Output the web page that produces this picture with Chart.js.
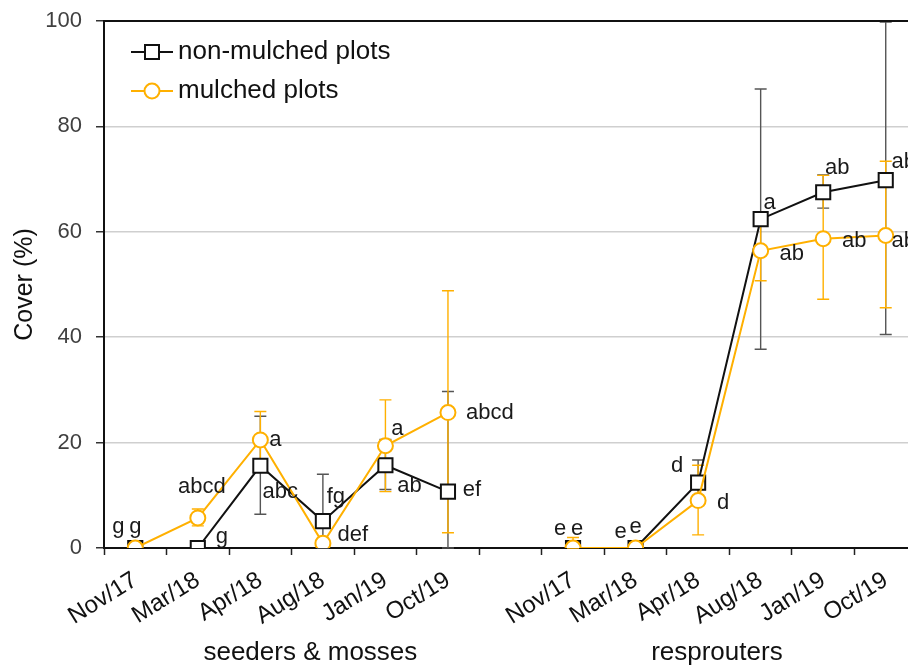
<!DOCTYPE html>
<html>
<head>
<meta charset="utf-8">
<style>
  html, body { margin: 0; padding: 0; background: #fff; overflow: hidden; }
  canvas { display: block; }
</style>
<script src="https://cdn.jsdelivr.net/npm/chart.js@4.4.1/dist/chart.umd.min.js"></script>
</head>
<body>
<!-- wider than the window on purpose: the source figure is cropped at its right edge -->
<canvas id="c" width="929" height="666"></canvas>
<script>
/* ---- data (cover %, mean and error-bar ends) ---- */
var dates = ['Nov/17', 'Mar/18', 'Apr/18', 'Aug/18', 'Jan/19', 'Oct/19'];
var categories = dates.concat([''], dates);   // blank slot splits the two groups
var groups = ['seeders & mosses', 'resprouters'];
var yTicks = [0, 20, 40, 60, 80, 100];

var bareMean = [0, 0, 15.6, 5.1, 15.7, 10.7, null, 0, 0, 12.4, 62.4, 67.5, 69.8];
var bareLow  = [null, null, 6.4, 0, 11.1, 0, null, null, null, 8.1, 37.7, 64.5, 40.5];
var bareHigh = [null, null, 25.0, 14.0, 20.6, 29.7, null, null, null, 16.7, 87.1, 70.8, 99.8];
var bareLetters = ['g', 'g', 'abc', 'fg', 'ab', 'ef', '', 'e', 'e', 'd', 'a', 'ab', 'ab'];

var mulchMean = [0, 5.7, 20.5, 0.9, 19.4, 25.7, null, 0, 0, 9.0, 56.4, 58.7, 59.3];
var mulchLow  = [null, 4.2, 15.1, null, 10.7, 2.9, null, 0, null, 2.5, 50.7, 47.2, 45.6];
var mulchHigh = [null, 7.4, 25.9, null, 28.1, 48.8, null, 2.0, null, 15.7, 62.1, 70.7, 73.4];
var mulchLetters = ['g', 'abcd', 'a', 'def', 'a', 'abcd', '', 'e', 'e', 'd', 'ab', 'ab', 'ab'];

/* ---- placement of the letter labels, px offset from each marker ---- */
var bareLetterPos = [[-17, -21], [24, -11], [20, 26], [13, -24], [24, 21], [24, -2], null,
                     [-13, -19], [-15, -16], [-21, -17], [9, -16], [14, -24], [18, -18]];
var mulchLetterPos = [[0, -21], [4, -31], [15, 0], [30, -8], [12, -17], [42, 0], null,
                      [4, -19], [0, -21], [25, 2], [31, 3], [31, 2], [18, 5]];

var BLACK = '#111111', ORANGE = '#FFB000', FONT = "'Liberation Sans', Arial, sans-serif";

/* ---- error bars under the lines ---- */
var errorBars = {
  id: 'errorBars',
  beforeDatasetsDraw: function (c) {
    var g = c.ctx, xs = c.scales.x, ys = c.scales.y;
    var sets = [[bareLow, bareHigh, '#555555'], [mulchLow, mulchHigh, ORANGE]];
    g.save();
    g.lineWidth = 1.4;
    sets.forEach(function (s) {
      g.strokeStyle = s[2];
      for (var i = 0; i < categories.length; i++) {
        if (s[0][i] == null || s[1][i] == null) continue;
        var x = xs.getPixelForValue(i), y1 = ys.getPixelForValue(s[0][i]), y2 = ys.getPixelForValue(s[1][i]);
        g.beginPath();
        g.moveTo(x, y1); g.lineTo(x, y2);
        g.moveTo(x - 6, y1); g.lineTo(x + 6, y1);
        g.moveTo(x - 6, y2); g.lineTo(x + 6, y2);
        g.stroke();
      }
    });
    g.restore();
  }
};

/* ---- letters, frame, legend, group labels ---- */
var annotate = {
  id: 'annotate',
  afterDraw: function (c) {
    var g = c.ctx, xs = c.scales.x, ys = c.scales.y, a = c.chartArea;
    g.save();
    // top frame line
    g.strokeStyle = BLACK; g.lineWidth = 2;
    g.beginPath(); g.moveTo(a.left, a.top); g.lineTo(a.right, a.top); g.stroke();

    g.fillStyle = '#1a1a1a';
    g.font = '22px ' + FONT;
    g.textAlign = 'center'; g.textBaseline = 'middle';
    [[bareMean, bareLetters, bareLetterPos], [mulchMean, mulchLetters, mulchLetterPos]].forEach(function (s) {
      for (var i = 0; i < categories.length; i++) {
        if (!s[1][i]) continue;
        var x = xs.getPixelForValue(i), y = ys.getPixelForValue(s[0][i]);
        g.fillText(s[1][i], x + s[2][i][0], y + s[2][i][1]);
      }
    });

    // legend
    var items = [['non-mulched plots', BLACK, 'rect', 52], ['mulched plots', ORANGE, 'circle', 91]];
    items.forEach(function (it) {
      g.strokeStyle = it[1]; g.lineWidth = 2;
      g.beginPath(); g.moveTo(131, it[3]); g.lineTo(173, it[3]); g.stroke();
      g.fillStyle = '#fff';
      g.beginPath();
      if (it[2] === 'rect') g.rect(145, it[3] - 7, 14, 14);
      else g.arc(152, it[3], 7.5, 0, Math.PI * 2);
      g.fill(); g.stroke();
      g.fillStyle = '#111';
      g.font = '26px ' + FONT;
      g.textAlign = 'left';
      g.fillText(it[0], 178, it[3]);
    });

    // group captions under the date labels
    g.font = '26px ' + FONT;
    g.textAlign = 'center';
    g.fillText(groups[0], xs.getPixelForValue(2.8), 653);
    g.fillText(groups[1], xs.getPixelForValue(9.3), 653);
    g.restore();
  }
};

new Chart(document.getElementById('c'), {
  type: 'line',
  data: {
    labels: categories,
    datasets: [{
      label: 'non-mulched plots',
      data: bareMean,
      order: 1,
      borderColor: BLACK,
      borderWidth: 2,
      pointStyle: 'rect',
      pointRadius: 10,
      pointBorderWidth: 2,
      pointBackgroundColor: '#fff',
      pointBorderColor: BLACK,
      spanGaps: false
    }, {
      label: 'mulched plots',
      data: mulchMean,
      order: 0,
      borderColor: ORANGE,
      borderWidth: 2,
      pointStyle: 'circle',
      pointRadius: 7.5,
      pointBorderWidth: 2,
      pointBackgroundColor: '#fff',
      pointBorderColor: ORANGE,
      spanGaps: false
    }]
  },
  options: {
    responsive: false,
    animation: false,
    layout: { padding: { top: 21, right: 1, bottom: 0, left: 0 } },
    plugins: { legend: { display: false }, tooltip: { enabled: false } },
    scales: {
      x: {
        offset: true,
        grid: { offset: true, drawOnChartArea: false, tickLength: 7, tickColor: '#222', tickWidth: 1.5 },
        border: { color: BLACK, width: 2 },
        ticks: {
          autoSkip: false, minRotation: 32, maxRotation: 32, padding: 11,
          color: '#111', font: { family: FONT, size: 24 }
        },
        afterFit: function (s) { s.height = 118; s.paddingLeft = 0; s.paddingRight = 0; }
      },
      y: {
        min: 0, max: 100,
        afterBuildTicks: function (s) { s.ticks = yTicks.map(function (v) { return { value: v }; }); },
        grid: { color: '#cfcfcf', lineWidth: 1.5, tickLength: 8, tickColor: '#333' },
        border: { color: BLACK, width: 2 },
        ticks: { padding: 14, color: '#404040', font: { family: FONT, size: 22 } },
        title: { display: true, text: 'Cover (%)', color: '#111', font: { family: FONT, size: 25 }, padding: { top: 10, bottom: 0 } },
        afterFit: function (s) { s.width = 104; s.paddingTop = 0; s.paddingBottom = 0; }
      }
    }
  },
  plugins: [errorBars, annotate]
});
</script>
</body>
</html>
